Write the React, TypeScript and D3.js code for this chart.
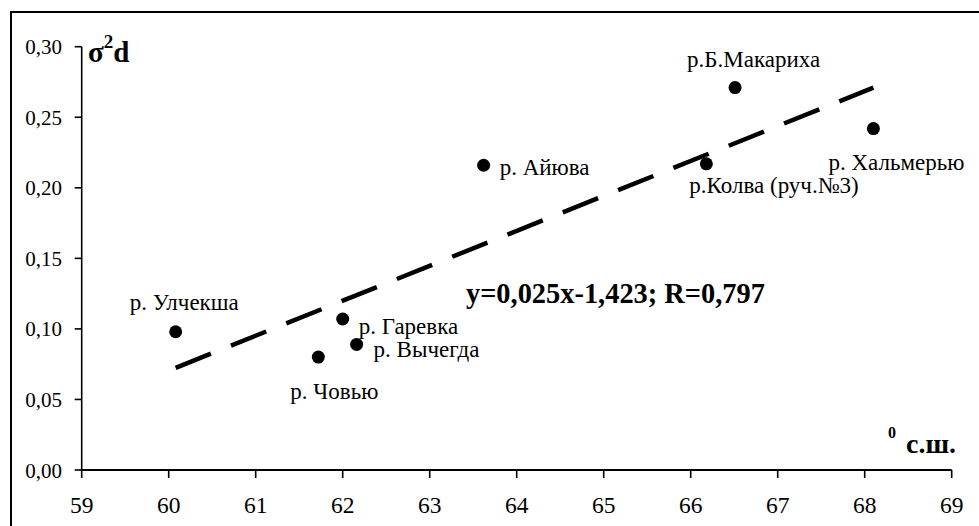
import React from "react";
import * as d3 from "d3";

const W = 979;
const H = 526;

const rivers = ["р. Улчекша", "р. Човью", "р. Гаревка", "р. Вычегда", "р. Айюва", "р.Колва (руч.№3)", "р.Б.Макариха", "р. Хальмерью"];
const latitude = [60.08, 61.72, 62.0, 62.16, 63.62, 66.18, 66.51, 68.1];
const variance = [0.098, 0.08, 0.107, 0.089, 0.216, 0.217, 0.271, 0.242];
const trendX = [60.08, 68.1];
const trendY = [0.0724, 0.271];
const xTicks = [59, 60, 61, 62, 63, 64, 65, 66, 67, 68, 69];
const yTicks = [0, 0.05, 0.1, 0.15, 0.2, 0.25, 0.3];
const equation = "y=0,025x-1,423; R=0,797";

// label offsets relative to point (dx, dy to baseline)
const labelPos: [number, number][] = [
  [-46, -22],
  [-28, 42],
  [16, 15],
  [17, 13],
  [16, 10],
  [-17, 29],
  [-48, -21],
  [-45, 41],
];

const ff = "Liberation Serif, Times New Roman, serif";
const st = { fontFamily: ff };

export default function App() {
  const x = d3.scaleLinear().domain([59, 69]).range([81.7, 951.7]);
  const y = d3.scaleLinear().domain([0, 0.3]).range([470, 46.7]);
  const fmt = (v: number) => d3.format(".2f")(v).replace(".", ",");
  const line = d3
    .line<number>()
    .x((_, i) => x(trendX[i]))
    .y((d) => y(d));

  return (
    <svg width={W} height={H} style={{ position: "absolute", left: 0, top: 0, background: "#fff" }}>
      <rect x={0} y={0} width={W} height={H} fill="#fff" />
      <rect x={11} y={12} width={2000} height={2000} fill="none" stroke="#000" strokeWidth={2} />
      {/* axes */}
      <line x1={x(59)} x2={x(59)} y1={y(0.3)} y2={y(0)} stroke="#000" strokeWidth={1.6} />
      <line x1={x(59)} x2={x(69)} y1={y(0)} y2={y(0)} stroke="#000" strokeWidth={1.8} />
      {yTicks.map((t) => (
        <g key={"y" + t}>
          <line x1={x(59) - 7} x2={x(59)} y1={y(t)} y2={y(t)} stroke="#000" strokeWidth={1.6} />
          <text x={62} y={y(t) + 7.5} textAnchor="end" fontSize={21} style={st}>
            {fmt(t)}
          </text>
        </g>
      ))}
      {xTicks.map((t) => (
        <g key={"x" + t}>
          <line x1={x(t)} x2={x(t)} y1={y(0)} y2={y(0) + 8} stroke="#000" strokeWidth={1.6} />
          <text x={x(t)} y={513} textAnchor="middle" fontSize={23.5} style={st}>
            {t}
          </text>
        </g>
      ))}
      {/* trend */}
      <path d={line(trendY) || ""} fill="none" stroke="#000" strokeWidth={4.5} strokeDasharray="38 21.6" />
      {/* points */}
      {latitude.map((lx, i) => (
        <circle key={"p" + i} cx={x(lx)} cy={y(variance[i])} r={6.5} fill="#000" />
      ))}
      {rivers.map((r, i) => (
        <text key={"l" + i} x={x(latitude[i]) + labelPos[i][0]} y={y(variance[i]) + labelPos[i][1]} fontSize={23} style={st}>
          {r}
        </text>
      ))}
      <text x={466} y={303} fontSize={28.4} fontWeight="bold" style={st}>
        {equation}
      </text>
      <text x={88} y={62} fontSize={29} fontWeight="bold" style={st}>
        σ<tspan fontSize={19} dy={-14}>2</tspan>
        <tspan dy={14}>d</tspan>
      </text>
      <text x={888} y={438} fontSize={16} fontWeight="bold" style={st}>
        0
      </text>
      <text x={906} y={453} fontSize={28} fontWeight="bold" style={st}>
        с.ш.
      </text>
    </svg>
  );
}
